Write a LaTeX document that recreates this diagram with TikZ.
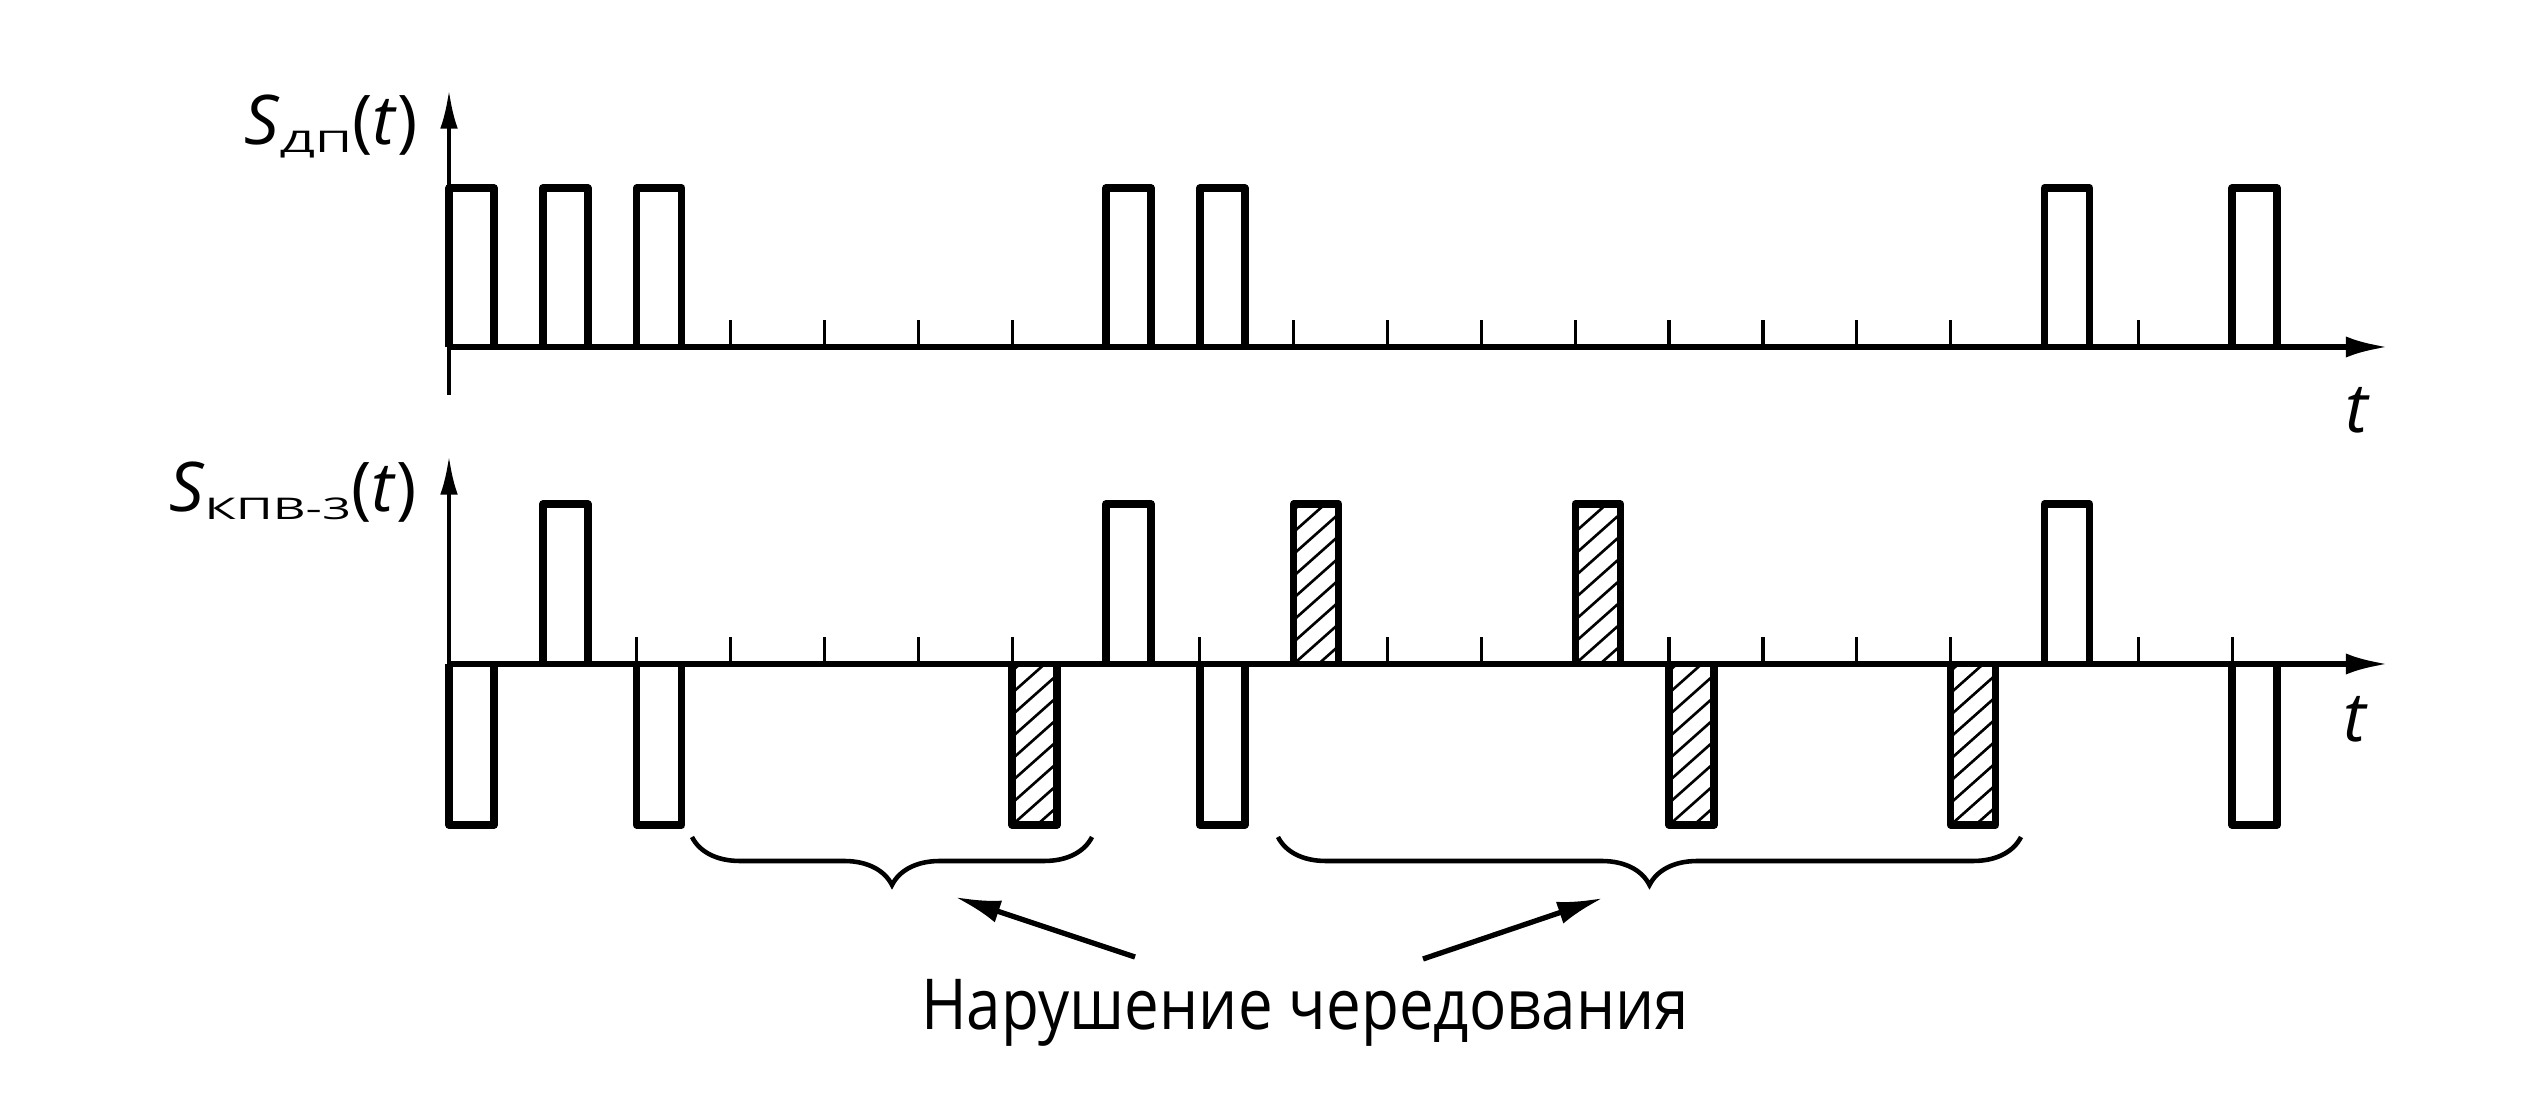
\documentclass[tikz,border=0pt]{standalone}
\usepackage{fontspec}
\setmainfont{Open Sans}
\usepackage{graphicx}
\usetikzlibrary{arrows.meta,decorations.pathreplacing}
\def\pulse[#1](#2:#3:#4){\draw[#1] ({4.49+#2*0.9385},#3) -- ({4.49+#2*0.9385},#4) -- ({4.94+#2*0.9385},#4) -- ({4.94+#2*0.9385},#3);}
\def\hatch(#1:#2:#3){\begin{scope}\clip ({4.49+#1*0.9385},#2) rectangle ({4.94+#1*0.9385},#3);
	\foreach \k in {-10,...,10} \draw[hatchline] ({4.49+#1*0.9385},{#2+\k*0.22}) -- ++(0.45,0.40);\end{scope}}
\def\subtxt#1{\raisebox{-2pt}{\scalebox{1.7}[1]{\fontsize{8.5}{8.5}\selectfont #1}}}
\tikzset{
	axisline/.style={line width=1.6pt, -{Latex[length=12pt,width=6pt]}},
	yaxisline/.style={line width=1.2pt, -{Latex[length=11pt,width=5pt]}},
	pulseline/.style={line width=2.1pt, line join=round},
	hatchline/.style={line width=0.75pt},
	tickline/.style={line width=0.9pt},
	lbl/.style={inner sep=0pt, font=\fontsize{19.5}{22}\selectfont},
	note/.style={inner sep=0pt, font=\fontsize{20}{24}\selectfont},
	pointer/.style={line width=1.5pt, -{Latex[length=13pt,width=6.5pt]}},
	bracket/.style={line width=1.3pt, decorate, decoration={brace, amplitude=0.48cm}}
}
\begin{document}
\begin{tikzpicture}
		%%%%% START %%%%%
		\useasboundingbox (0,0) rectangle (25.25,10.94);
		
		% upper diagram
		\draw[yaxisline] (4.49,6.99) -- (4.49,10.04);
		\draw[axisline] (4.49,7.47) -- (23.88,7.47);
		\foreach \k in {3,4,5,6,9,10,11,12,13,14,15,16,18}
			\draw[tickline] ({4.49+\k*0.9385},7.47) -- ++(0,0.27);
		\pulse[pulseline](0:7.47:9.06)
		\pulse[pulseline](1:7.47:9.06)
		\pulse[pulseline](2:7.47:9.06)
		\pulse[pulseline](7:7.47:9.06)
		\pulse[pulseline](8:7.47:9.06)
		\pulse[pulseline](17:7.47:9.06)
		\pulse[pulseline](19:7.47:9.06)
		\node[lbl, anchor=base east] (sdp) at (4.18,9.49) {\textit{S}\subtxt{ДП}(\textit{t})};
		\node[lbl, anchor=base] (ttop) at (23.58,6.61) {\textit{t}};
		
		% lower diagram
		\draw[yaxisline] (4.49,4.30) -- (4.49,6.38);
		\draw[axisline] (4.49,4.30) -- (23.88,4.30);
		\foreach \k in {2,3,4,5,6,8,10,11,13,14,15,16,18,19}
			\draw[tickline] ({4.49+\k*0.9385},4.30) -- ++(0,0.27);
		\hatch(6:2.69:4.30)
		\hatch(9:4.30:5.90)
		\hatch(12:4.30:5.90)
		\hatch(13:2.69:4.30)
		\hatch(16:2.69:4.30)
		\pulse[pulseline](1:4.30:5.90)
		\pulse[pulseline](7:4.30:5.90)
		\pulse[pulseline](9:4.30:5.90)
		\pulse[pulseline](12:4.30:5.90)
		\pulse[pulseline](17:4.30:5.90)
		\pulse[pulseline](0:4.30:2.69)
		\pulse[pulseline](2:4.30:2.69)
		\pulse[pulseline](6:4.30:2.69)
		\pulse[pulseline](8:4.30:2.69)
		\pulse[pulseline](13:4.30:2.69)
		\pulse[pulseline](16:4.30:2.69)
		\pulse[pulseline](19:4.30:2.69)
		\node[lbl, anchor=base east] (skpv) at (4.17,5.82) {\textit{S}\subtxt{КПВ-3}(\textit{t})};
		\node[lbl, anchor=base] (tbot) at (23.56,3.52) {\textit{t}};
		
		% violations
		\draw[bracket] (10.92,2.57) -- (6.92,2.57);
		\draw[bracket] (20.21,2.57) -- (12.78,2.57);
		\node[note, anchor=base] (note) at (13.05,0.64) {\scalebox{0.88}[1]{Нарушение чередования}};
		\coordinate (fromL) at (11.35,1.37);
		\coordinate (toL) at (9.55,1.97);
		\coordinate (fromR) at (14.23,1.35);
		\coordinate (toR) at (16.03,1.96);
		\draw[pointer] (fromL) -- (toL);
		\draw[pointer] (fromR) -- (toR);
		%%%%% END %%%%%
	\end{tikzpicture}
\end{document}
